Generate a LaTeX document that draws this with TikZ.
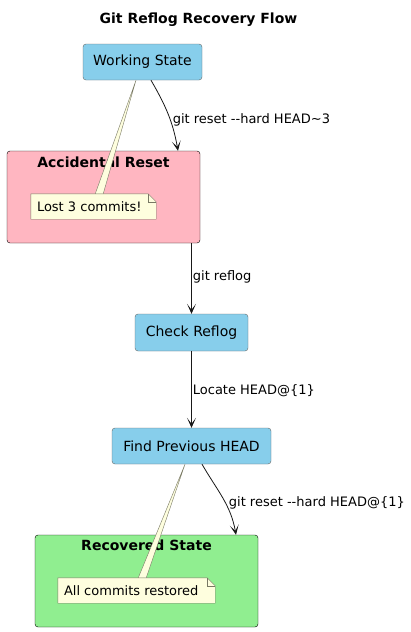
\documentclass[tikz,border=0pt]{standalone}
\usepackage{fontspec}
\setmainfont{DejaVu Sans}
\usetikzlibrary{calc,arrows.meta}
\definecolor{skyblue}{RGB}{135,206,235}
\definecolor{softpink}{RGB}{255,182,193}
\definecolor{softgreen}{RGB}{144,238,144}
\definecolor{notefill}{RGB}{254,254,222}
\definecolor{noteline}{RGB}{120,120,100}
\tikzset{
  state/.style={rectangle, rounded corners=3pt, draw=gray!80!black, fill=skyblue, inner sep=0pt, font=\fontsize{14}{16}\selectfont},
  group/.style={rectangle, rounded corners=3pt, draw=black, inner sep=0pt},
  grouptitle/.style={font=\fontsize{14}{16}\selectfont\bfseries, inner sep=0pt},
  memo/.style={inner sep=0pt, font=\fontsize{13}{15}\selectfont},
  edgetext/.style={font=\fontsize{13}{15}\selectfont, inner sep=1pt, anchor=west},
  flow/.style={draw=black!90, line width=0.8pt, -{Stealth[length=10pt,width=9pt,inset=6pt]}},
  wedge/.style={fill=notefill, draw=noteline, line width=0.4pt}
}
% note with folded corner
\newcommand{\memobox}[1]{%
  \draw[fill=notefill, draw=noteline] (#1.south west) -- (#1.north west) -- ($(#1.north east)+(-8,0)$) -- ($(#1.north east)+(0,-8)$) -- (#1.south east) -- cycle;
  \draw[draw=noteline] ($(#1.north east)+(-8,0)$) -- ($(#1.north east)+(-8,-8)$) -- ($(#1.north east)+(0,-8)$);
}

\begin{document}
\begin{tikzpicture}[x=1pt,y=1pt]
  \useasboundingbox (0,0) rectangle (411,-632);

  % title
  \node[font=\fontsize{14}{16}\selectfont\bfseries] (title) at (198.5,-19.5) {Git Reflog Recovery Flow};

  % states
  \node[state, minimum width=119pt, minimum height=36pt] (work) at (142.5,-62) {Working State};
  \node[group, fill=softpink, minimum width=193pt, minimum height=92pt] (reset) at (103.5,-197) {};
  \node[grouptitle] (resettitle) at (103.5,-162) {Accidental Reset};
  \node[state, minimum width=113pt, minimum height=37pt] (check) at (191.5,-332.5) {Check Reflog};
  \node[state, minimum width=159pt, minimum height=36pt] (find) at (191.5,-446) {Find Previous HEAD};
  \node[group, fill=softgreen, minimum width=223pt, minimum height=92pt] (recov) at (146.5,-581) {};
  \node[grouptitle] (recovtitle) at (146.5,-545) {Recovered State};

  % notes
  \filldraw[wedge] ($(work.south)+(-6.5,0)$) -- (95,-194.5) -- (103,-194.5) -- cycle;
  \node[memo, minimum width=125pt, minimum height=25pt] (lost) at (93.5,-206.5) {};
  \memobox{lost}
  \node[memo, anchor=west] (losttext) at ($(lost.west)+(6,0)$) {Lost 3 commits!};

  \filldraw[wedge] ($(find.south)+(-6.5,0)$) -- (138,-578.5) -- (146,-578.5) -- cycle;
  \node[memo, minimum width=157pt, minimum height=25pt] (restored) at (136.5,-590.5) {};
  \memobox{restored}
  \node[memo, anchor=west] (restoredtext) at ($(restored.west)+(6,0)$) {All commits restored};

  % transitions
  \draw[flow] ($(work.south)+(8.5,0)$) to[out=-60,in=100]
    node[edgetext, pos=0.55, xshift=2pt, yshift=-2pt] {git reset -{}-hard HEAD\textasciitilde3} ($(reset.north)+(74.5,0)$);
  \draw[flow] (reset.south -| check.north) -- node[edgetext, pos=0.48] {git reflog} (check.north);
  \draw[flow] (check.south) -- node[edgetext, pos=0.5, yshift=-1pt] {Locate HEAD@\{1\}} (find.north);
  \draw[flow] ($(find.south)+(10.5,0)$) to[out=-60,in=100]
    node[edgetext, pos=0.55, xshift=3pt, yshift=-2pt] {git reset -{}-hard HEAD@\{1\}} ($(recov.north)+(89.5,0)$);
\end{tikzpicture}
\end{document}
